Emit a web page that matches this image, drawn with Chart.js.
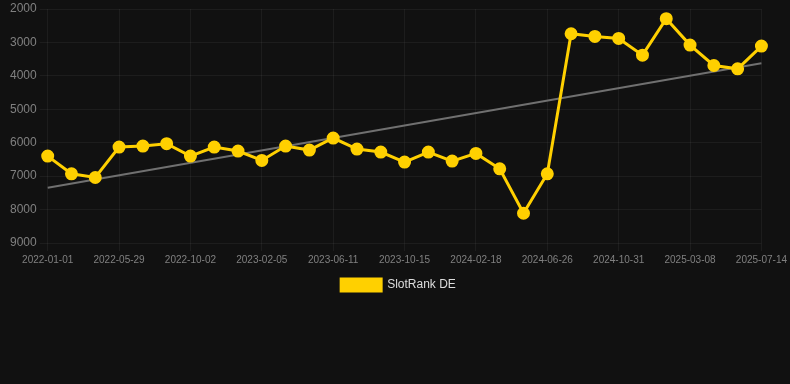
<!DOCTYPE html>
<html>
<head>
<meta charset="utf-8">
<script src="https://cdn.jsdelivr.net/npm/chart.js@4"></script>
<style>
  html, body { margin: 0; padding: 0; background: #111111; }
  #wrap { width: 790px; height: 384px; }
</style>
</head>
<body>
<div id="wrap"><canvas id="rankChart"></canvas></div>
<script>
// data
var dates = [
    "2022-01-01", "2022-02-19", "2022-04-09", "2022-05-29", "2022-07-10", "2022-08-21",
    "2022-10-02", "2022-11-13", "2022-12-25", "2023-02-05", "2023-03-19", "2023-04-30",
    "2023-06-11", "2023-07-23", "2023-09-03", "2023-10-15", "2023-11-26", "2024-01-07",
    "2024-02-18", "2024-03-31", "2024-05-14", "2024-06-26", "2024-08-08", "2024-09-19",
    "2024-10-31", "2024-12-13", "2025-01-24", "2025-03-08", "2025-04-20", "2025-06-01",
    "2025-07-14"
];
var ranks = [
    6400, 6930, 7040, 6130, 6100, 6030,
    6400, 6130, 6250, 6530, 6100, 6220,
    5860, 6190, 6280, 6580, 6280, 6550,
    6320, 6780, 8110, 6930, 2740, 2820,
    2880, 3380, 2290, 3080, 3690, 3790,
    3110
];
// trend line: only the two ends
var trend = [7350].concat(new Array(29).fill(null), [3620]);
var yTicks = [2000, 3000, 4000, 5000, 6000, 7000, 8000, 9000];

var ctx = document.getElementById('rankChart');
var myChart = new Chart(ctx, {
    type: 'line',
    data: {
        labels: dates,
        datasets: [{
            label: "SlotRank DE",
            data: ranks,
            borderColor: "#FFD000",
            backgroundColor: "#FFD000",
            borderWidth: 3,
            pointRadius: 5,
            pointHoverRadius: 6,
            tension: 0,
            order: 1
        }, {
            label: "trend",
            data: trend,
            borderColor: "#707070",
            borderWidth: 2,
            pointRadius: 0,
            spanGaps: true,
            fill: false,
            order: 2
        }]
    },
    options: {
        responsive: true,
        maintainAspectRatio: false,
        animation: false,
        layout: {
            padding: { left: 7, bottom: 83 }
        },
        scales: {
            x: {
                grid: { color: "rgba(255,255,255,0.05)" },
                border: { display: false },
                ticks: {
                    color: "#808080",
                    font: { family: "Liberation Sans, Arial", size: 10 },
                    maxRotation: 0,
                    autoSkip: true,
                    maxTicksLimit: 11
                }
            },
            y: {
                reverse: true,
                min: 2000,
                max: 9000,
                grid: { color: "rgba(255,255,255,0.05)" },
                border: { display: false },
                afterBuildTicks: function (axis) {
                    axis.ticks = yTicks.map(function (v) { return { value: v }; });
                },
                ticks: {
                    color: "#808080",
                    font: { family: "Liberation Sans, Arial", size: 12, lineHeight: 0.2 },
                    callback: function (v) { return String(v); }
                }
            }
        },
        plugins: {
            legend: {
                position: 'bottom',
                labels: {
                    color: "#dddddd",
                    boxWidth: 40,
                    font: { family: "Liberation Sans, Arial", size: 12 },
                    filter: function (item) { return item.text !== "trend"; }
                }
            },
            tooltip: { enabled: false }
        }
    }
});
</script>
</body>
</html>
